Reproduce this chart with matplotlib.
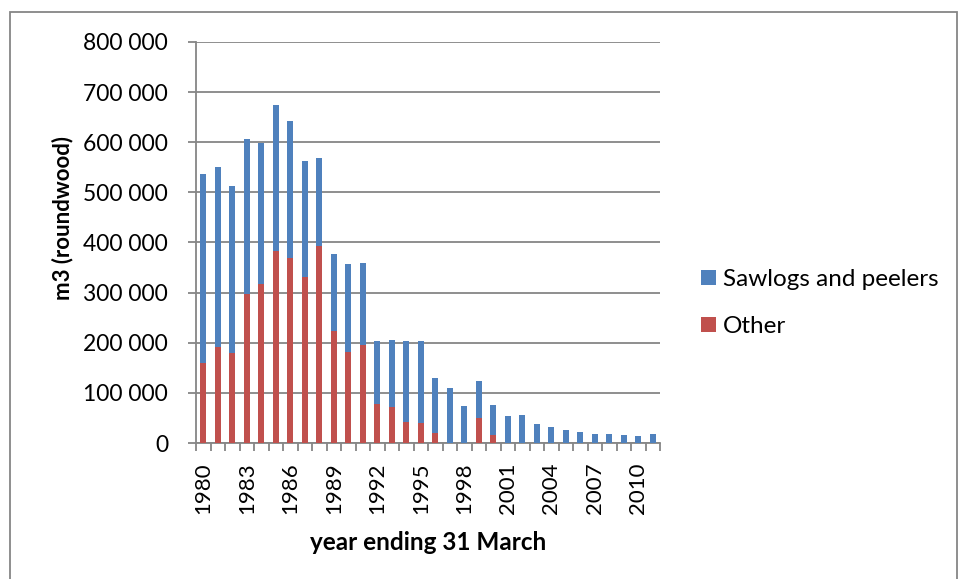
import matplotlib
matplotlib.use("Agg")
import matplotlib.pyplot as plt
from matplotlib.ticker import FuncFormatter, MultipleLocator
from matplotlib.patches import Rectangle

plt.rcParams['font.family'] = ['Lato', 'DejaVu Sans']

# data (m3 roundwood)
years = list(range(1980, 2012))
total = [537000, 550000, 513000, 607000, 598000, 674000, 642000, 563000,
         569000, 377000, 357000, 360000, 204000, 205000, 203000, 204000,
         129000, 109000, 74000, 124000, 75000, 54000, 56000, 37000,
         31000, 26000, 22000, 17000, 17000, 15000, 13000, 17000]
other = [159000, 191000, 179000, 298000, 318000, 384000, 370000, 332000,
         394000, 223000, 181000, 196000, 78000, 71000, 42000, 39000,
         20000, 0, 0, 49000, 15000, 0, 0, 0,
         0, 0, 0, 0, 0, 0, 0, 0]
sawlogs = [t - o for t, o in zip(total, other)]

blue = '#4F81BD'
red = '#C0504D'
grey = '#868686'
W, H = 958, 579

fig = plt.figure(figsize=(W / 100, H / 100), dpi=100)
ax = fig.add_axes([196 / W, 1 - 443 / H, (660 - 196) / W, (443 - 42) / H])

x = list(range(len(years)))
b_other = ax.bar(x, other, width=0.38, color=red, zorder=3)
b_saw = ax.bar(x, sawlogs, bottom=other, width=0.38, color=blue, zorder=3)

ax.set_xlim(-0.5, len(years) - 0.5)
ax.set_ylim(0, 800000)
ax.yaxis.set_major_locator(MultipleLocator(100000))
ax.yaxis.set_major_formatter(FuncFormatter(lambda v, p: f"{int(v):,}".replace(",", " ")))
ax.grid(axis='y', color=grey, linewidth=1.3, zorder=0)
ax.set_axisbelow(True)

# year labels every 3 years at bar centres, tick marks on category edges
ax.set_xticks(x[::3])
ax.set_xticklabels([str(y) for y in years[::3]], rotation=90)
ax.set_xticks([i - 0.5 for i in range(len(years) + 1)], minor=True)
ax.tick_params(axis='x', which='major', length=0, pad=14, labelsize=16)
ax.tick_params(axis='x', which='minor', length=6, width=1.3, color=grey, direction='out')
ax.tick_params(axis='y', length=6, width=1.3, color=grey, pad=14, labelsize=16.5)

for s in ['top', 'right']:
    ax.spines[s].set_visible(False)
for s in ['left', 'bottom']:
    ax.spines[s].set_color(grey)
    ax.spines[s].set_linewidth(1.3)

fig.text(63 / W, 1 - 218 / H, 'm3 (roundwood)', rotation=90, ha='center', va='center',
         fontsize=16, fontweight='bold')
fig.text(428 / W, 1 - 542 / H, 'year ending 31 March', ha='center', va='center',
         fontsize=17.5, fontweight='bold')

fig.legend([b_saw, b_other], ['Sawlogs and peelers', 'Other'], loc='center left',
           bbox_to_anchor=(701 / W, 1 - 303 / H), frameon=False, fontsize=17.5,
           handlelength=0.6, handleheight=0.6, handletextpad=0.3,
           labelspacing=1.08, borderpad=0, borderaxespad=0)

# outer chart border
fig.patches.append(Rectangle((10 / W, -0.05), (957 - 10) / W, 1.05 - 12 / H,
                             transform=fig.transFigure, fill=False,
                             edgecolor=grey, linewidth=1.3))

fig.savefig('out.png', dpi=100)
